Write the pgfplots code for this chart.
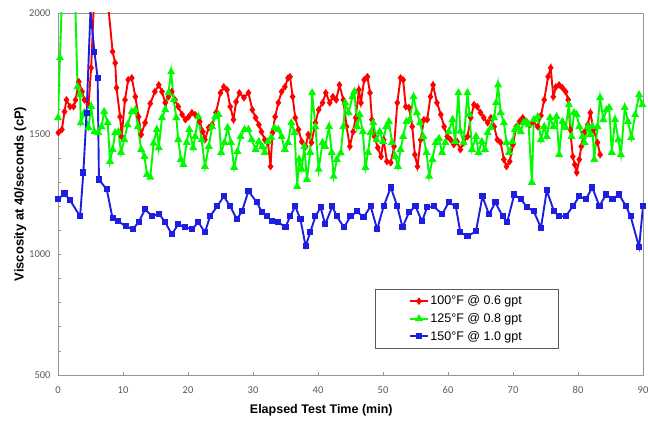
\documentclass[border=0pt]{standalone}
\usepackage{pgfplots}
\pgfplotsset{compat=1.18}
\usepackage{fontspec}
\setmainfont{Liberation Sans}
\newfontfamily\tickfont{Carlito}

\definecolor{redline}{RGB}{255,0,0}
\definecolor{greenline}{RGB}{0,250,0}
\definecolor{blueline}{RGB}{30,30,225}
\definecolor{framegray}{RGB}{150,150,150}
\definecolor{tickgray}{RGB}{90,90,90}

\begin{document}
\begin{tikzpicture}
\useasboundingbox (-58pt,-46pt) rectangle (590pt,375pt);
\begin{axis}[
    scale only axis,
    width=585pt, height=362pt,
    xmin=0, xmax=90,
    ymin=500, ymax=2000,
    xtick={0,10,20,30,40,50,60,70,80,90},
    ytick={500,1000,1500,2000},
    minor ytick={600,700,800,900,1100,1200,1300,1400,1600,1700,1800,1900},
    xtick pos=bottom, ytick pos=left,
    tick align=inside,
    major tick length=3pt, minor tick length=3pt,
    tick style={framegray, line width=0.6pt},
    axis line style={framegray, line width=0.8pt},
    /pgf/number format/assume math mode=true,
    /pgf/number format/set thousands separator={},
    ticklabel style={font=\tickfont\fontsize{10.5}{12}\selectfont, text=tickgray},
    xticklabel style={anchor=north, yshift=-8pt},
    yticklabel style={anchor=east, xshift=-4pt},
    xlabel={Elapsed Test Time (min)},
    ylabel={Viscosity at 40/seconds (cP)},
    xlabel style={font=\bfseries\fontsize{12.5}{14}\selectfont, at={(ticklabel cs:0.45)}, anchor=north, yshift=-4pt},
    ylabel style={font=\bfseries\fontsize{13}{15}\selectfont, yshift=-4pt},
    legend cell align=left,
    legend style={at={(axis cs:48.8,856)}, anchor=north west, draw=tickgray,
        line width=0.6pt, inner xsep=34pt, inner ysep=4.5pt,
        font=\fontsize{12.5}{14}\selectfont, row sep=3pt},
    every axis plot/.append style={line width=1.9pt},
]

% 100F @ 0.6 gpt
\addplot[color=redline, mark=diamond*, mark size=2.3pt] coordinates {
(0.05,1504)(0.6,1517)(1.0,1591)(1.3,1640)(1.85,1612)(2.4,1612)(2.7,1640)(3.2,1715)
(3.7,1674)(4.05,1640)(4.7,1620)(5.1,1773)(5.7,2150)(6.4,2400)(7.1,2350)(7.8,2010)
(8.4,1840)(8.8,1793)(9.0,1690)(9.55,1570)(9.8,1488)(10.3,1640)(10.8,1723)(11.35,1731)
(11.9,1653)(12.4,1570)(12.8,1496)(13.4,1545)(14.2,1625)(14.9,1674)(15.5,1702)(16.0,1674)
(16.5,1628)(17.0,1653)(17.5,1674)(18.0,1640)(18.5,1612)(19.1,1579)(19.6,1558)(20.1,1570)
(20.6,1587)(21.1,1579)(21.8,1550)(22.3,1508)(22.6,1475)(23.2,1525)(23.7,1537)(24.3,1587)
(25.0,1669)(25.5,1694)(26.0,1682)(26.5,1612)(27.0,1558)(27.4,1632)(27.9,1669)(28.6,1649)
(29.3,1669)(29.9,1599)(30.4,1566)(30.9,1537)(31.3,1508)(31.8,1475)(32.3,1463)(32.7,1364)
(33.0,1504)(33.4,1570)(33.9,1628)(34.4,1674)(34.9,1694)(35.4,1731)(35.7,1736)(36.1,1653)
(36.5,1566)(37.0,1517)(37.5,1467)(38.1,1447)(38.5,1496)(39.0,1463)(39.6,1545)(40.1,1599)
(40.7,1628)(41.2,1669)(41.8,1628)(42.3,1653)(42.8,1640)(43.3,1702)(43.9,1640)(44.4,1529)
(44.9,1447)(45.4,1508)(45.8,1566)(46.3,1682)(46.6,1628)(47.1,1723)(47.6,1736)(48.0,1669)
(48.3,1558)(48.7,1488)(49.2,1442)(49.7,1405)(50.1,1475)(50.6,1385)(51.2,1380)(51.7,1447)
(52.2,1628)(52.7,1731)(53.1,1723)(53.5,1612)(54.0,1608)(54.5,1529)(54.9,1413)(55.3,1364)
(55.8,1475)(56.3,1558)(56.8,1558)(57.3,1653)(57.7,1702)(58.3,1628)(58.9,1579)(59.4,1529)
(59.9,1488)(60.4,1475)(60.9,1455)(61.4,1467)(61.9,1434)(62.4,1463)(63.0,1488)(63.5,1566)
(64.0,1620)(64.5,1612)(65.0,1587)(65.5,1566)(66.1,1545)(66.6,1566)(67.1,1529)(67.6,1475)
(68.1,1463)(68.6,1393)(69.0,1364)(69.5,1385)(70.0,1455)(70.5,1529)(71.0,1550)(71.5,1566)
(72.1,1550)(72.6,1537)(73.1,1550)(73.8,1529)(74.3,1575)(74.8,1640)(75.4,1736)(75.8,1773)
(76.2,1653)(76.6,1694)(77.1,1702)(77.6,1690)(78.1,1674)(78.5,1640)(78.8,1517)(79.2,1405)
(79.5,1372)(79.8,1339)(80.2,1393)(80.5,1447)(80.9,1504)(81.5,1537)(81.9,1587)(82.4,1517)
(83.0,1463)(83.4,1413)
};
\addlegendentry{100°F @ 0.6 gpt}

% 125F @ 0.8 gpt
\addplot[color=greenline, mark=triangle*, mark size=2.8pt] coordinates {
(0.0,1566)(0.3,1814)(0.9,2300)(1.6,2450)(2.4,2300)(3.0,1694)(3.4,1661)(3.5,1545)
(4.05,1587)(4.7,1525)(5.1,1612)(5.6,1508)(6.2,1504)(6.7,1529)(7.1,1591)(7.65,1545)
(8.0,1385)(8.4,1434)(8.8,1504)(9.3,1508)(9.7,1422)(10.2,1475)(10.7,1537)(11.35,1591)
(11.9,1599)(12.3,1529)(12.8,1434)(13.3,1405)(13.7,1331)(14.2,1319)(14.7,1460)(15.2,1517)
(15.5,1442)(16.0,1566)(16.5,1599)(17.0,1669)(17.4,1756)(17.8,1640)(18.2,1566)(18.5,1475)
(18.9,1393)(19.3,1372)(19.8,1463)(20.2,1517)(20.8,1442)(21.1,1488)(21.6,1570)(22.1,1475)
(22.6,1364)(23.2,1447)(23.7,1529)(24.2,1570)(24.7,1579)(25.1,1422)(25.6,1463)(26.1,1525)
(26.6,1463)(27.1,1360)(27.6,1426)(28.1,1488)(28.7,1517)(29.3,1517)(29.8,1475)(30.4,1434)
(30.9,1467)(31.4,1447)(31.8,1422)(32.3,1467)(32.8,1484)(33.3,1525)(33.9,1517)(34.4,1488)
(34.9,1434)(35.4,1463)(35.9,1545)(36.4,1504)(36.8,1281)(37.1,1393)(37.5,1352)(37.9,1447)
(38.3,1310)(38.8,1422)(39.1,1669)(39.6,1529)(40.1,1352)(40.7,1463)(41.1,1447)(41.7,1529)
(42.1,1422)(42.4,1323)(42.9,1393)(43.5,1420)(43.9,1529)(44.2,1628)(44.7,1587)(45.3,1653)
(45.6,1674)(46.0,1529)(46.4,1579)(46.9,1508)(47.3,1360)(47.7,1422)(48.1,1504)(48.5,1545)
(49.0,1475)(49.5,1508)(50.0,1467)(50.5,1529)(50.9,1550)(51.4,1463)(51.9,1405)(52.3,1364)
(52.7,1434)(53.1,1488)(53.6,1550)(54.1,1558)(54.7,1653)(55.2,1587)(55.7,1545)(56.2,1488)
(56.7,1422)(57.1,1323)(57.6,1393)(58.1,1463)(58.6,1480)(59.1,1422)(59.6,1463)(60.1,1508)
(60.7,1558)(61.1,1467)(61.6,1669)(61.9,1510)(62.4,1463)(63.0,1669)(63.3,1579)(63.7,1434)
(64.3,1488)(64.7,1422)(65.2,1467)(65.7,1434)(66.1,1504)(66.6,1525)(67.1,1566)(67.4,1628)
(67.7,1702)(68.1,1587)(68.6,1545)(69.0,1463)(69.4,1422)(69.9,1467)(70.3,1517)(70.7,1529)
(71.2,1508)(71.6,1545)(72.0,1550)(72.4,1537)(72.9,1298)(73.2,1558)(73.8,1570)(74.3,1475)
(74.8,1530)(75.2,1488)(75.7,1566)(76.2,1529)(76.7,1570)(77.1,1413)(77.6,1550)(78.1,1525)
(78.6,1620)(79.0,1488)(79.4,1587)(79.8,1579)(80.2,1529)(80.7,1488)(81.0,1463)(81.5,1529)
(81.9,1496)(82.2,1529)(82.5,1393)(83.0,1529)(83.4,1649)(83.9,1558)(84.4,1599)(84.8,1608)
(85.2,1422)(85.7,1558)(86.2,1475)(86.6,1413)(87.2,1608)(87.7,1550)(88.2,1484)(88.8,1579)
(89.4,1661)(89.9,1620)
};
\addlegendentry{125°F @ 0.8 gpt}

% 150F @ 1.0 gpt
\addplot[color=blueline, mark=square*, mark size=2.1pt] coordinates {
(0,1228)(1.0,1252)(1.85,1225)(3.4,1157)(3.9,1339)(4.4,1587)(5.0,2010)(5.6,1840)
(6.1,1731)(6.3,1310)(7.5,1269)(8.4,1149)(9.3,1137)(10.4,1116)(11.5,1104)(12.4,1133)
(13.4,1186)(14.4,1160)(15.6,1166)(16.5,1133)(17.5,1083)(18.5,1124)(19.6,1112)(20.6,1104)
(21.6,1133)(22.6,1091)(23.4,1158)(24.5,1199)(25.5,1240)(26.5,1199)(27.5,1145)(28.3,1178)
(29.3,1262)(30.6,1215)(31.4,1174)(32.2,1157)(32.9,1137)(33.9,1133)(35.0,1112)(35.7,1157)
(36.5,1199)(37.3,1145)(38.1,1034)(38.8,1091)(39.6,1157)(40.4,1195)(41.1,1124)(42.2,1199)
(42.9,1157)(44.0,1112)(45.0,1157)(46.0,1178)(47.0,1153)(48.1,1199)(49.1,1104)(50.1,1199)
(51.2,1277)(52.2,1199)(53.0,1112)(54.0,1174)(55.0,1199)(56.0,1137)(56.8,1195)(57.8,1199)
(59.1,1166)(60.1,1215)(61.2,1199)(61.9,1091)(63.0,1075)(64.3,1095)(65.3,1240)(66.3,1166)
(67.3,1215)(68.4,1157)(69.1,1133)(70.2,1248)(71.2,1228)(72.2,1195)(73.2,1178)(74.3,1110)
(75.2,1265)(76.3,1178)(77.1,1157)(78.1,1157)(79.2,1199)(80.2,1240)(81.2,1228)(82.2,1277)
(83.3,1199)(84.3,1248)(85.3,1228)(86.3,1248)(87.4,1199)(88.1,1157)(89.4,1030)(90.0,1199)
};
\addlegendentry{150°F @ 1.0 gpt}

\end{axis}
\end{tikzpicture}
\end{document}
